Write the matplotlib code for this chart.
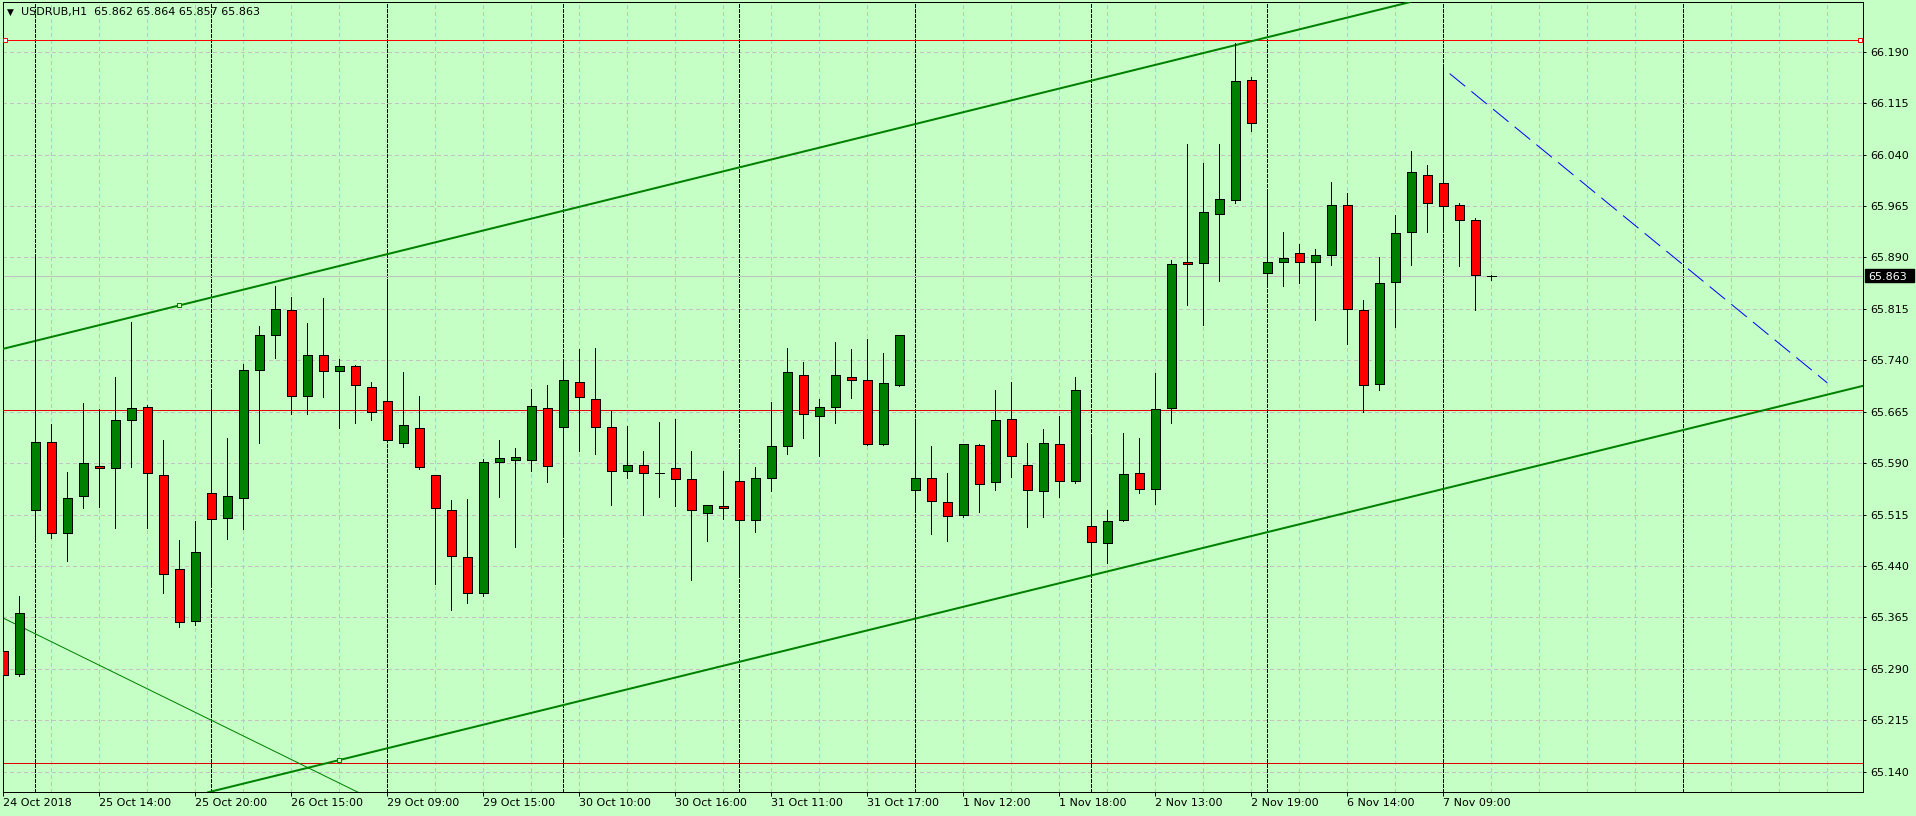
import matplotlib
matplotlib.use('Agg')
import matplotlib.pyplot as plt
from matplotlib.patches import Rectangle

# USDRUB H1, bars from 24 Oct 19:00 to 7 Nov 12:00 (index = bar number)
opens = [65.316, 65.283, 65.521, 65.621, 65.488, 65.542, 65.586, 65.583, 65.653, 65.672,
         65.572, 65.436, 65.360, 65.546, 65.510, 65.539, 65.726, 65.777, 65.814, 65.688,
         65.748, 65.724, 65.732, 65.701, 65.681, 65.619, 65.641, 65.572, 65.521, 65.453,
         65.400, 65.591, 65.595, 65.595, 65.670, 65.643, 65.708, 65.684, 65.643, 65.578,
         65.587, 65.576, 65.583, 65.567, 65.518, 65.527, 65.564, 65.507, 65.568, 65.615,
         65.719, 65.659, 65.672, 65.715, 65.711, 65.618, 65.704, 65.551, 65.568, 65.533,
         65.514, 65.616, 65.562, 65.654, 65.588, 65.549, 65.618, 65.564, 65.498, 65.473,
         65.507, 65.575, 65.553, 65.671, 65.884, 65.882, 65.954, 65.974, 66.149, 65.867,
         65.884, 65.897, 65.883, 65.894, 65.967, 65.814, 65.705, 65.854, 65.927, 66.010,
         65.998, 65.966, 65.944, 65.862]
highs = [65.365, 65.396, 65.895, 65.647, 65.577, 65.678, 65.669, 65.716, 65.796, 65.675,
         65.624, 65.478, 65.506, 65.692, 65.627, 65.735, 65.790, 65.849, 65.832, 65.795,
         65.831, 65.742, 65.733, 65.708, 65.859, 65.723, 65.688, 65.573, 65.536, 65.537,
         65.596, 65.624, 65.612, 65.698, 65.704, 65.739, 65.757, 65.758, 65.666, 65.644,
         65.608, 65.650, 65.655, 65.608, 65.529, 65.579, 65.608, 65.585, 65.679, 65.758,
         65.737, 65.684, 65.767, 65.757, 65.771, 65.751, 65.777, 65.652, 65.615, 65.575,
         65.618, 65.618, 65.697, 65.708, 65.620, 65.640, 65.659, 65.716, 65.631, 65.521,
         65.634, 65.627, 65.721, 65.886, 66.056, 66.027, 66.056, 66.203, 66.153, 65.985,
         65.927, 65.910, 65.902, 66.000, 65.984, 65.828, 65.890, 65.952, 66.045, 66.025,
         66.166, 65.969, 65.948, 65.864]
lows = [65.137, 65.279, 65.479, 65.481, 65.448, 65.525, 65.526, 65.496, 65.585, 65.496,
        65.400, 65.351, 65.354, 65.411, 65.480, 65.494, 65.620, 65.743, 65.662, 65.662,
        65.687, 65.641, 65.648, 65.653, 65.622, 65.614, 65.581, 65.414, 65.376, 65.386,
        65.396, 65.540, 65.467, 65.578, 65.563, 65.488, 65.607, 65.603, 65.529, 65.569,
        65.515, 65.541, 65.528, 65.419, 65.477, 65.509, 65.428, 65.490, 65.549, 65.604,
        65.626, 65.601, 65.649, 65.685, 65.617, 65.616, 65.703, 65.522, 65.486, 65.476,
        65.511, 65.519, 65.551, 65.570, 65.497, 65.511, 65.541, 65.561, 65.428, 65.445,
        65.506, 65.547, 65.530, 65.649, 65.821, 65.792, 65.855, 65.970, 66.075, 65.850,
        65.849, 65.852, 65.798, 65.879, 65.764, 65.664, 65.697, 65.788, 65.879, 65.927,
        65.932, 65.877, 65.814, 65.857]
closes = [65.281, 65.372, 65.621, 65.488, 65.539, 65.590, 65.583, 65.653, 65.670, 65.575,
          65.429, 65.358, 65.460, 65.508, 65.542, 65.726, 65.777, 65.815, 65.688, 65.748,
          65.724, 65.732, 65.704, 65.665, 65.624, 65.646, 65.584, 65.524, 65.454, 65.400,
          65.591, 65.597, 65.599, 65.673, 65.586, 65.711, 65.686, 65.643, 65.578, 65.587,
          65.575, 65.576, 65.567, 65.521, 65.529, 65.524, 65.507, 65.568, 65.615, 65.723,
          65.662, 65.672, 65.719, 65.711, 65.618, 65.707, 65.777, 65.568, 65.535, 65.513,
          65.618, 65.560, 65.653, 65.600, 65.551, 65.619, 65.564, 65.697, 65.475, 65.505,
          65.574, 65.553, 65.669, 65.881, 65.881, 65.956, 65.975, 66.147, 66.086, 65.884,
          65.889, 65.883, 65.894, 65.967, 65.815, 65.704, 65.853, 65.925, 66.014, 65.970,
          65.965, 65.944, 65.864, 65.863]

tick_bars = [0, 6, 12, 18, 24, 30, 36, 42, 48, 54, 60, 66, 72, 78, 84, 90]
tick_labels = ['24 Oct 2018', '25 Oct 14:00', '25 Oct 20:00', '26 Oct 15:00',
               '29 Oct 09:00', '29 Oct 15:00', '30 Oct 10:00', '30 Oct 16:00',
               '31 Oct 11:00', '31 Oct 17:00', '1 Nov 12:00', '1 Nov 18:00',
               '2 Nov 13:00', '2 Nov 19:00', '6 Nov 14:00', '7 Nov 09:00']
day_starts = [2, 13, 24, 35, 46, 57, 68, 79, 90, 105]
price_levels = [65.140, 65.215, 65.290, 65.365, 65.440, 65.515, 65.590, 65.665,
                65.740, 65.815, 65.890, 65.965, 66.040, 66.115, 66.190]

# drawn objects
red_levels = [66.207, 65.668, 65.152]
upper_line = [(11, 65.820), (87, 66.257)]
lower_line = [(21, 65.157), (110, 65.667)]
thin_line = [(0, 65.364), (22, 65.112)]
blue_line = [(90.4, 66.158), (114.0, 65.707)]

bg = '#C5FFC5'
px = 0.72  # one pixel in points at dpi 100

fig = plt.figure(figsize=(19.16, 8.16), dpi=100, facecolor=bg)
ax = fig.add_axes([2.7 / 1916, 1 - 792.3 / 816, (1863 - 2.7) / 1916, (792.3 - 2.3) / 816])
ax.set_facecolor(bg)
ax.set_xlim(-0.0375, 116.23)
ax.set_ylim(65.110, 66.262)

# grid
for lv in price_levels:
    ax.axhline(lv, color='#C4C0C4', lw=px, dashes=(3, 3), zorder=1, antialiased=False)
for b in range(3, 117, 3):
    ax.axvline(b, color='#C4C0C4', lw=px, dashes=(3, 3), zorder=1, antialiased=False)
for b in day_starts:
    ax.axvline(b, color='black', lw=px, dashes=(3, 2), zorder=2, antialiased=False)

# current price line
ax.axhline(closes[-1], color='#C0C0C0', lw=px, zorder=2)

# horizontal levels
ax.axhline(red_levels[0], color='#FF0000', lw=px, zorder=3, antialiased=False)
ax.axhline(red_levels[1], color='#E00000', lw=px, zorder=3, antialiased=False)
ax.axhline(red_levels[2], color='#E00000', lw=px, zorder=3, antialiased=False)
ax.plot([0.13, 116.06], [red_levels[0]] * 2, 's', ms=3, mfc='white', mec='red',
        mew=px, zorder=8, clip_on=False)

# trend lines
ax.axline(upper_line[0], upper_line[1], color='#008000', lw=2 * px, zorder=3)
ax.axline(lower_line[0], lower_line[1], color='#008000', lw=2 * px, zorder=3)
ax.axline(thin_line[0], thin_line[1], color='#008000', lw=px, zorder=3)
ax.plot([blue_line[0][0], blue_line[1][0]], [blue_line[0][1], blue_line[1][1]],
        color='#0000FF', lw=px, dashes=(20, 8), zorder=3)
ax.plot(*upper_line[0], 's', ms=3, mfc=bg, mec='#008000', mew=px, zorder=8)
ax.plot(*lower_line[0], 's', ms=3, mfc=bg, mec='#008000', mew=px, zorder=8)

# candles
w = 0.58
for i in range(len(opens)):
    o, h, l, c = opens[i], highs[i], lows[i], closes[i]
    ax.vlines(i, l, h, color='black', lw=px, zorder=5, antialiased=False)
    if abs(c - o) < 0.0015:
        ax.hlines(c, i - w / 2, i + w / 2, color='black', lw=px, zorder=6, antialiased=False)
    else:
        col = '#008000' if c > o else '#FF0000'
        ax.add_patch(Rectangle((i - w / 2, min(o, c)), w, abs(c - o), facecolor=col,
                               edgecolor='black', lw=px, zorder=6, antialiased=False))

# axes / ticks
for s in ax.spines.values():
    s.set_color('black')
    s.set_linewidth(px)
ax.yaxis.tick_right()
ax.set_yticks(price_levels)
ax.set_yticklabels(['%.3f' % v for v in price_levels])
ax.set_xticks(tick_bars)
ax.set_xticklabels(tick_labels, ha='left')
ax.tick_params(axis='y', direction='out', length=2.2, width=px, pad=3, labelsize=8, colors='black')
ax.tick_params(axis='x', direction='out', length=3, width=px, pad=1, labelsize=8, colors='black')

# current price box
fig.canvas.draw()
yp = ax.transData.transform((0, closes[-1]))[1]
fig.patches.append(Rectangle((1865, yp - 6.5), 49, 13, transform=None,
                             facecolor='black', edgecolor='black'))
fig.text(1868 / 1916, yp / 816, '%.3f' % closes[-1], color='white', fontsize=8,
         va='center_baseline', ha='left')

# header
fig.text(6.5 / 1916, 1 - 12.5 / 816, '\u25bc', fontsize=6.5, va='center', ha='left')
fig.text(21 / 1916, 1 - 12.5 / 816,
         'USDRUB,H1  %.3f %.3f %.3f %.3f' % (opens[-1], highs[-1], lows[-1], closes[-1]),
         fontsize=8, va='center', ha='left')

fig.savefig('out.png', dpi=100, facecolor=bg)
